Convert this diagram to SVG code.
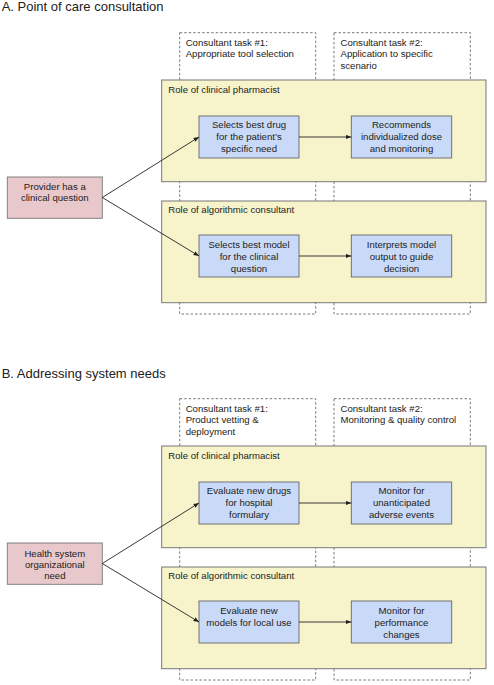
<svg xmlns="http://www.w3.org/2000/svg" width="494" height="685" viewBox="0 0 494 685">
<style>
text{font-family:"Liberation Sans",Arial,sans-serif;fill:#222;}
.title{font-size:13px;}
.sm{font-size:9.6px;}
.c{text-anchor:middle;}
.task{fill:#fff;stroke:#555;stroke-width:0.8;stroke-dasharray:2.5,2;}
.role{fill:#f7f4cc;stroke:#777;stroke-width:1;}
.blue{fill:#c9daf8;stroke:#666;stroke-width:0.9;}
.pink{fill:#e9c8cb;stroke:#777;stroke-width:0.9;}
.edge{fill:none;stroke:#222;stroke-width:0.9;marker-end:url(#ah);}
</style>
<defs>
<marker id="ah" markerUnits="userSpaceOnUse" markerWidth="6" markerHeight="5" refX="5.5" refY="2.5" orient="auto">
<path d="M0,0.3 L5.5,2.5 L0,4.7 Z" fill="#222"/>
</marker>
</defs>
<rect width="494" height="685" fill="#fff"/>

<!-- Panel A -->
<text id="titleA" class="title" x="1.7" y="11">A. Point of care consultation</text>
<g id="taskA1"><rect class="task" x="179.7" y="32.7" width="136" height="281.3"/>
<text class="sm" x="185.7" y="45.7">Consultant task #1:</text>
<text class="sm" x="185.7" y="57.2">Appropriate tool selection</text></g>
<g id="taskA2"><rect class="task" x="334" y="32.7" width="136.3" height="281.3"/>
<text class="sm" x="340.5" y="45.7">Consultant task #2:</text>
<text class="sm" x="340.5" y="57.2">Application to specific</text>
<text class="sm" x="340.5" y="68.7">scenario</text></g>
<g id="roleA1"><rect class="role" x="161.7" y="80" width="324.3" height="101.7"/>
<text class="sm" x="168.3" y="92.7">Role of clinical pharmacist</text></g>
<g id="roleA2"><rect class="role" x="161.7" y="201" width="324.3" height="101.7"/>
<text class="sm" x="168.3" y="212.7">Role of algorithmic consultant</text></g>
<g id="nodeA1a"><rect class="blue" x="199" y="116" width="100" height="42"/>
<text class="sm c" x="249" y="128.4">Selects best drug</text>
<text class="sm c" x="249" y="140.1">for the patient’s</text>
<text class="sm c" x="249" y="151.7">specific need</text></g>
<g id="nodeA1b"><rect class="blue" x="351.3" y="116" width="100.4" height="42"/>
<text class="sm c" x="401.5" y="128.4">Recommends</text>
<text class="sm c" x="401.5" y="140.1">individualized dose</text>
<text class="sm c" x="401.5" y="151.7">and monitoring</text></g>
<g id="nodeA2a"><rect class="blue" x="199" y="235" width="100" height="42"/>
<text class="sm c" x="249" y="248.4">Selects best model</text>
<text class="sm c" x="249" y="260.1">for the clinical</text>
<text class="sm c" x="249" y="271.7">question</text></g>
<g id="nodeA2b"><rect class="blue" x="351.3" y="235" width="100.4" height="42"/>
<text class="sm c" x="401.5" y="248.4">Interprets model</text>
<text class="sm c" x="401.5" y="260.1">output to guide</text>
<text class="sm c" x="401.5" y="271.7">decision</text></g>
<g id="nodeA0"><rect class="pink" x="7.3" y="177" width="95" height="41.3"/>
<text class="sm c" x="54.8" y="190.2">Provider has a</text>
<text class="sm c" x="54.8" y="201.4">clinical question</text></g>

<!-- Panel B -->
<text id="titleB" class="title" x="1.7" y="377.5">B. Addressing system needs</text>
<g id="taskB1"><rect class="task" x="179.7" y="398.7" width="136" height="281.3"/>
<text class="sm" x="185.7" y="411.7">Consultant task #1:</text>
<text class="sm" x="185.7" y="423.2">Product vetting &amp;</text>
<text class="sm" x="185.7" y="434.7">deployment</text></g>
<g id="taskB2"><rect class="task" x="334" y="398.7" width="136.3" height="281.3"/>
<text class="sm" x="340.5" y="411.7">Consultant task #2:</text>
<text class="sm" x="340.5" y="423.2">Monitoring &amp; quality control</text></g>
<g id="roleB1"><rect class="role" x="161.7" y="446" width="324.3" height="101.7"/>
<text class="sm" x="168.3" y="458.7">Role of clinical pharmacist</text></g>
<g id="roleB2"><rect class="role" x="161.7" y="567" width="324.3" height="101.7"/>
<text class="sm" x="168.3" y="578.7">Role of algorithmic consultant</text></g>
<g id="nodeB1a"><rect class="blue" x="199" y="482" width="100" height="42"/>
<text class="sm c" x="249" y="494.4">Evaluate new drugs</text>
<text class="sm c" x="249" y="506.1">for hospital</text>
<text class="sm c" x="249" y="517.7">formulary</text></g>
<g id="nodeB1b"><rect class="blue" x="351.3" y="482" width="100.4" height="42"/>
<text class="sm c" x="401.5" y="494.4">Monitor for</text>
<text class="sm c" x="401.5" y="506.1">unanticipated</text>
<text class="sm c" x="401.5" y="517.7">adverse events</text></g>
<g id="nodeB2a"><rect class="blue" x="199" y="601" width="100" height="42"/>
<text class="sm c" x="249" y="614.4">Evaluate new</text>
<text class="sm c" x="249" y="626.1">models for local use</text></g>
<g id="nodeB2b"><rect class="blue" x="351.3" y="601" width="100.4" height="42"/>
<text class="sm c" x="401.5" y="614.4">Monitor for</text>
<text class="sm c" x="401.5" y="626.1">performance</text>
<text class="sm c" x="401.5" y="637.7">changes</text></g>
<g id="nodeB0"><rect class="pink" x="7.3" y="543" width="95" height="41.3"/>
<text class="sm c" x="54.8" y="556.7">Health system</text>
<text class="sm c" x="54.8" y="568.1">organizational</text>
<text class="sm c" x="54.8" y="579.4">need</text></g>

<g id="connectors">
<path class="edge" d="M102.3,197.5 L199,137"/>
<path class="edge" d="M102.3,197.5 L199,256"/>
<path class="edge" d="M299,137 L351.3,137"/>
<path class="edge" d="M299,256 L351.3,256"/>
<path class="edge" d="M102.3,563.5 L199,503"/>
<path class="edge" d="M102.3,563.5 L199,622"/>
<path class="edge" d="M299,503 L351.3,503"/>
<path class="edge" d="M299,622 L351.3,622"/>
</g>
</svg>
